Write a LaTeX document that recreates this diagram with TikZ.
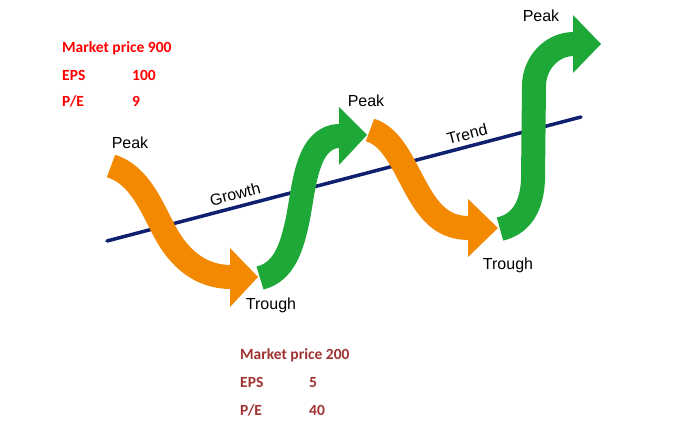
\documentclass[tikz,border=0pt]{standalone}
\usepackage{fontspec}
\setmainfont{Liberation Sans}
\newfontfamily\calfont{Carlito}
\definecolor{cycleorange}{RGB}{242,137,0}
\definecolor{cyclegreen}{RGB}{30,168,56}
\definecolor{trendblue}{RGB}{16,32,112}
\definecolor{lowbrown}{RGB}{160,50,50}
\tikzset{
	shaft_o/.style = {
		draw=cycleorange,
		line width=24pt
	},
	shaft_g/.style = {
		draw=cyclegreen,
		line width=24pt
	},
	head_o/.style = {
		fill=cycleorange
	},
	head_g/.style = {
		fill=cyclegreen
	},
	phase/.style = {
		inner sep=0pt,
		font=\fontsize{16}{19}\selectfont
	},
	trendtext/.style = {
		phase,
		rotate=14.7
	},
	info_high/.style = {
		inner sep=0pt,
		anchor=base west,
		text=red,
		font=\calfont\bfseries\fontsize{15.5}{18}\selectfont
	},
	info_low/.style = {
		info_high,
		text=lowbrown
	},
}

\begin{document}
\begin{tikzpicture}[x=1pt,y=-1pt]
\useasboundingbox (0,0) rectangle (697,433);
\coordinate (t0) at (107,241);
\coordinate (t1) at (581,117);
\draw[trendblue, line width=3.5pt, line cap=round] (t0) -- (t1);

\draw[shaft_o] (111,166) .. controls (140,175) and (152,208) .. (165,232) .. controls (179,258) and (200,277) .. (231,277);
\fill[head_o] (230,248) -- (258,277) -- (230,307) -- cycle;

\draw[shaft_g] (260,278) .. controls (285,272) and (292,245) .. (297,223) .. controls (304,192) and (305,136) .. (340,136);
\fill[head_g] (339,107) -- (367,135) -- (339,165) -- cycle;

\draw[shaft_o] (370,130) .. controls (394,137) and (405,170) .. (420,195) .. controls (432,215) and (445,228) .. (469,228);
\fill[head_o] (468,199) -- (498,228) -- (468,257) -- cycle;

\draw[shaft_g] (500,229) .. controls (522,224) and (532,205) .. (533,180) -- (534,86) .. controls (534,64) and (551,44) .. (574,44);
\fill[head_g] (573,15) -- (601,44) -- (573,73) -- cycle;

\node[phase] (peak_a) at (130,143) {Peak};
\node[phase] (peak_b) at (366,101) {Peak};
\node[phase] (peak_c) at (541,16) {Peak};
\node[phase] (trough_a) at (271,305) {Trough};
\node[phase] (trough_b) at (508,265) {Trough};
\node[trendtext] (growth) at (235,194) {Growth};
\node[trendtext] (trend) at (467,134) {Trend};

\node[info_high] (mp_high) at (62,53) {Market price 900};
\node[info_high] (eps_high) at (62,81) {EPS};
\node[info_high] (eps_high_v) at (132,81) {100};
\node[info_high] (pe_high) at (62,107) {P/E};
\node[info_high] (pe_high_v) at (132,107) {9};
\node[info_low] (mp_low) at (240,359) {Market price 200};
\node[info_low] (eps_low) at (240,387) {EPS};
\node[info_low] (eps_low_v) at (309,387) {5};
\node[info_low] (pe_low) at (240,415) {P/E};
\node[info_low] (pe_low_v) at (309,415) {40};
\end{tikzpicture}
\end{document}
